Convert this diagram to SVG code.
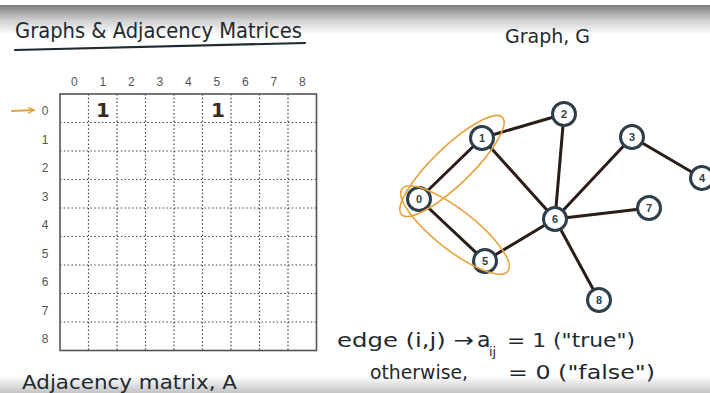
<svg xmlns="http://www.w3.org/2000/svg" width="710" height="393" viewBox="0 0 710 393">
<defs>
<linearGradient id="topg" x1="0" y1="0" x2="0" y2="1">
<stop offset="0" stop-color="#7e7e7e"/>
<stop offset="0.5" stop-color="#cfcfcf"/>
<stop offset="1" stop-color="#ffffff"/>
</linearGradient>
<linearGradient id="botg" x1="0" y1="0" x2="0" y2="1">
<stop offset="0" stop-color="#ffffff"/>
<stop offset="1" stop-color="#c4c4c4"/>
</linearGradient>
<marker id="oarr" viewBox="0 0 10 10" refX="9" refY="5" markerWidth="7" markerHeight="7" orient="auto" markerUnits="userSpaceOnUse">
<path d="M1,1 L9,5 L1,9" fill="none" stroke="#e8a33d" stroke-width="2" stroke-linecap="round"/>
</marker>
</defs>
<style>
.hand{font-family:"DejaVu Sans","Liberation Sans",sans-serif;fill:#1f2a30}
.lab{font-family:"Liberation Sans",Arial,sans-serif;font-size:12px;fill:#555;text-anchor:middle}
.one{font-family:"DejaVu Sans",sans-serif;font-size:20px;font-weight:bold;fill:#3b2a20;text-anchor:middle}
.grid{stroke:#444;stroke-width:1.2;stroke-dasharray:1.5 2.3;fill:none}
.edge{stroke:#2a1c17;stroke-width:3;stroke-linecap:round}
.node circle{fill:#fff;stroke:#2e3f4b;stroke-width:3}
.node text{font-family:"Liberation Sans",Arial,sans-serif;font-size:11px;font-weight:bold;fill:#2e3f4b;text-anchor:middle}
.loop{fill:none;stroke:#e8a33d;stroke-width:1.6}
</style>
<rect width="710" height="393" fill="#fff"/>
<rect x="0" y="5" width="710" height="30" fill="url(#topg)"/>
<rect x="0" y="376" width="710" height="17" fill="url(#botg)"/>

<!-- Titles -->
<text class="hand" x="15" y="38" font-size="22" textLength="287" lengthAdjust="spacingAndGlyphs">Graphs &amp; Adjacency Matrices</text>
<line x1="15" y1="50" x2="305" y2="43" stroke="#1f2a30" stroke-width="2.2" stroke-linecap="round"/>
<text class="hand" x="505" y="43" font-size="20" textLength="85" lengthAdjust="spacingAndGlyphs">Graph, G</text>
<text class="hand" x="22" y="389" font-size="19" textLength="215" lengthAdjust="spacingAndGlyphs">Adjacency matrix, A</text>

<!-- Formula -->
<g id="formula">
<text class="hand" x="337" y="347" font-size="20" textLength="137" lengthAdjust="spacingAndGlyphs">edge (i,j) →</text>
<text class="hand" x="477" y="347" font-size="22">a</text>
<text class="hand" x="489" y="356" font-size="13">ij</text>
<text class="hand" x="507" y="347" font-size="20" textLength="128" lengthAdjust="spacingAndGlyphs">= 1 ("true")</text>
<text class="hand" x="370" y="379" font-size="20" textLength="98" lengthAdjust="spacingAndGlyphs">otherwise,</text>
<text class="hand" x="508" y="379" font-size="20" textLength="147" lengthAdjust="spacingAndGlyphs">= 0 ("false")</text>
</g>

<!-- Matrix -->
<g id="matrix">
<g class="grid">
<path d="M88.5,94V350.5M117,94V350.5M145.5,94V350.5M174,94V350.5M202.5,94V350.5M231,94V350.5M259.5,94V350.5M288,94V350.5"/>
<path d="M60,122.5H316.5M60,151H316.5M60,179.5H316.5M60,208H316.5M60,236.5H316.5M60,265H316.5M60,293.5H316.5M60,322H316.5"/>
</g>
<rect x="60" y="94" width="256.5" height="256.5" fill="none" stroke="#555" stroke-width="1.6"/>
<g class="lab">
<text x="74.25" y="86">0</text><text x="102.75" y="86">1</text><text x="131.25" y="86">2</text><text x="159.75" y="86">3</text><text x="188.25" y="86">4</text><text x="216.75" y="86">5</text><text x="245.25" y="86">6</text><text x="273.75" y="86">7</text><text x="302.25" y="86">8</text>
<text x="45" y="115">0</text><text x="45" y="143.5">1</text><text x="45" y="172">2</text><text x="45" y="200.5">3</text><text x="45" y="229">4</text><text x="45" y="257.5">5</text><text x="45" y="286">6</text><text x="45" y="314.5">7</text><text x="45" y="343">8</text>
</g>
<text class="one" x="103" y="117">1</text>
<text class="one" x="218" y="117">1</text>
<line x1="12" y1="111" x2="34" y2="110" stroke="#e8a33d" stroke-width="2" stroke-linecap="round" marker-end="url(#oarr)"/>
</g>

<!-- Connectors -->
<g id="edges">
<line class="edge" x1="419" y1="199" x2="482" y2="138"/>
<line class="edge" x1="419" y1="199" x2="485" y2="261"/>
<line class="edge" x1="482" y1="138" x2="564" y2="114"/>
<line class="edge" x1="482" y1="138" x2="555" y2="219"/>
<line class="edge" x1="564" y1="114" x2="555" y2="219"/>
<line class="edge" x1="632" y1="137" x2="555" y2="219"/>
<line class="edge" x1="632" y1="137" x2="702" y2="178"/>
<line class="edge" x1="649" y1="208" x2="555" y2="219"/>
<line class="edge" x1="599" y1="300" x2="555" y2="219"/>
<line class="edge" x1="485" y1="261" x2="555" y2="219"/>
</g>

<!-- Nodes -->
<g id="n0" class="node"><circle cx="419" cy="199" r="11.5"/><text x="419" y="203">0</text></g>
<g id="n1" class="node"><circle cx="482" cy="138" r="11.5"/><text x="482" y="142">1</text></g>
<g id="n2" class="node"><circle cx="564" cy="114" r="11.5"/><text x="564" y="118">2</text></g>
<g id="n3" class="node"><circle cx="632" cy="137" r="11.5"/><text x="632" y="141">3</text></g>
<g id="n4" class="node"><circle cx="702" cy="178" r="11.5"/><text x="702" y="182">4</text></g>
<g id="n5" class="node"><circle cx="485" cy="261" r="11.5"/><text x="485" y="265">5</text></g>
<g id="n6" class="node"><circle cx="555" cy="219" r="11.5"/><text x="555" y="223">6</text></g>
<g id="n7" class="node"><circle cx="649" cy="208" r="11.5"/><text x="649" y="212">7</text></g>
<g id="n8" class="node"><circle cx="599" cy="300" r="11.5"/><text x="599" y="304">8</text></g>

<!-- Orange highlights -->
<g id="highlights">
<ellipse class="loop" cx="452" cy="166" rx="70" ry="19" transform="rotate(-44 452 166)"/>
<ellipse class="loop" cx="455" cy="230" rx="67" ry="20" transform="rotate(38 455 230)"/>
</g>
</svg>
